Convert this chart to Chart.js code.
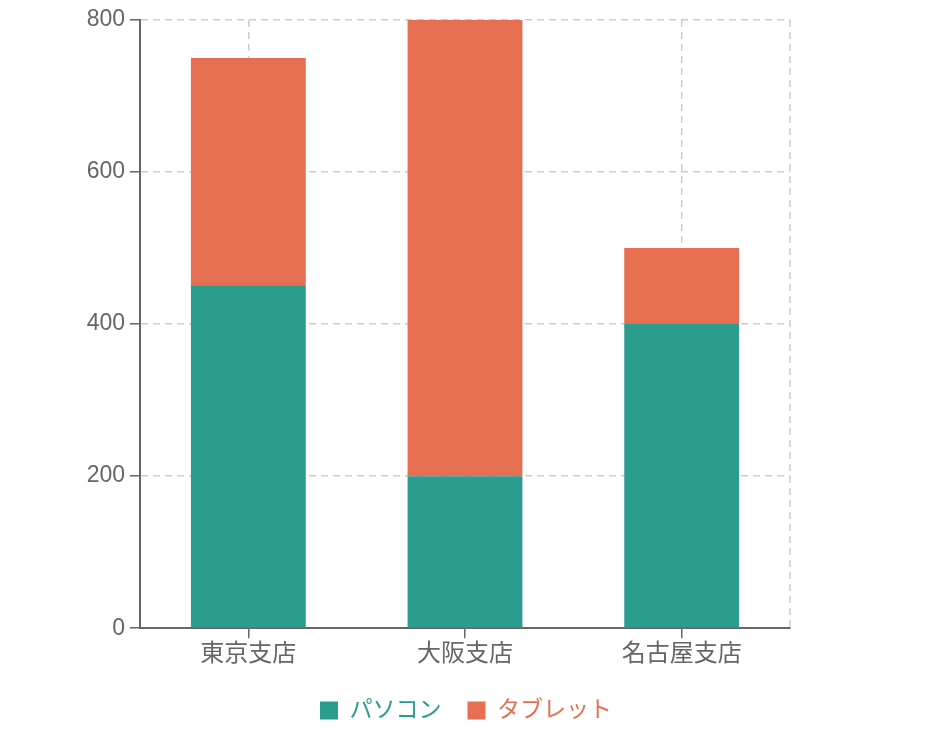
<!DOCTYPE html>
<html>
<head>
<meta charset="utf-8">
<script src="https://cdn.jsdelivr.net/npm/chart.js@4"></script>
<style>
  html, body { margin: 0; padding: 0; background: #fff; }
  #wrap { width: 932px; height: 752px; }
</style>
</head>
<body>
<div id="wrap"><canvas id="c"></canvas></div>
<script>
// data
const branches = ['東京支店', '大阪支店', '名古屋支店'];
const pcSales = [450, 200, 400];
const tabletSales = [300, 600, 100];

const FONT = "'Liberation Sans', 'Noto Sans CJK JP', sans-serif";
const TEAL = '#2a9d8f';
const ORANGE = '#e76f51';

// dashed line on the right edge of the plot area
const rightEdge = {
  id: 'rightEdge',
  beforeDatasetsDraw(chart) {
    const { ctx, chartArea: a } = chart;
    ctx.save();
    ctx.strokeStyle = '#cccccc';
    ctx.lineWidth = 1.5;
    ctx.setLineDash([7, 5]);
    ctx.beginPath();
    ctx.moveTo(a.right, a.top);
    ctx.lineTo(a.right, a.bottom);
    ctx.stroke();
    ctx.restore();
  }
};

new Chart(document.getElementById('c'), {
  type: 'bar',
  data: {
    labels: branches,
    datasets: [
      { label: 'パソコン', data: pcSales, backgroundColor: TEAL },
      { label: 'タブレット', data: tabletSales, backgroundColor: ORANGE }
    ]
  },
  options: {
    responsive: true,
    maintainAspectRatio: false,
    animation: false,
    layout: { padding: { left: 0, right: 0, top: 20, bottom: 20 } },
    datasets: { bar: { categoryPercentage: 1, barPercentage: 0.53 } },
    scales: {
      x: {
        stacked: true,
        grid: {
          offset: false,
          color: '#cccccc',
          lineWidth: 1.5,
          tickColor: '#666666',
          tickLength: 10
        },
        border: { color: '#666666', width: 2, dash: [7, 5] },
        ticks: { color: '#666666', font: { family: FONT, size: 24 }, padding: 2 },
        afterFit(scale) { scale.height += 2; }
      },
      y: {
        stacked: true,
        min: 0,
        max: 800,
        grid: {
          color: '#cccccc',
          lineWidth: 1.5,
          tickColor: '#666666',
          tickLength: 10
        },
        border: { color: '#666666', width: 2, dash: [7, 5] },
        ticks: { stepSize: 200, color: '#666666', font: { family: FONT, size: 23 }, padding: 5 },
        afterFit(scale) { scale.width = 140; }
      },
      // empty right axis, only reserves the right margin
      yRight: {
        position: 'right',
        min: 0,
        max: 800,
        grid: { drawOnChartArea: false, drawTicks: false },
        border: { display: false },
        ticks: { display: false },
        afterFit(scale) { scale.width = 142; }
      }
    },
    plugins: {
      legend: {
        position: 'bottom',
        labels: {
          boxWidth: 18,
          boxHeight: 18,
          padding: 26,
          font: { family: FONT, size: 23 },
          generateLabels(chart) {
            return chart.data.datasets.map((ds, i) => ({
              text: ds.label,
              fillStyle: ds.backgroundColor,
              strokeStyle: ds.backgroundColor,
              lineWidth: 0,
              fontColor: ds.backgroundColor,
              hidden: !chart.isDatasetVisible(i),
              datasetIndex: i
            }));
          }
        }
      },
      tooltip: { enabled: false }
    }
  },
  plugins: [rightEdge]
});
</script>
</body>
</html>
